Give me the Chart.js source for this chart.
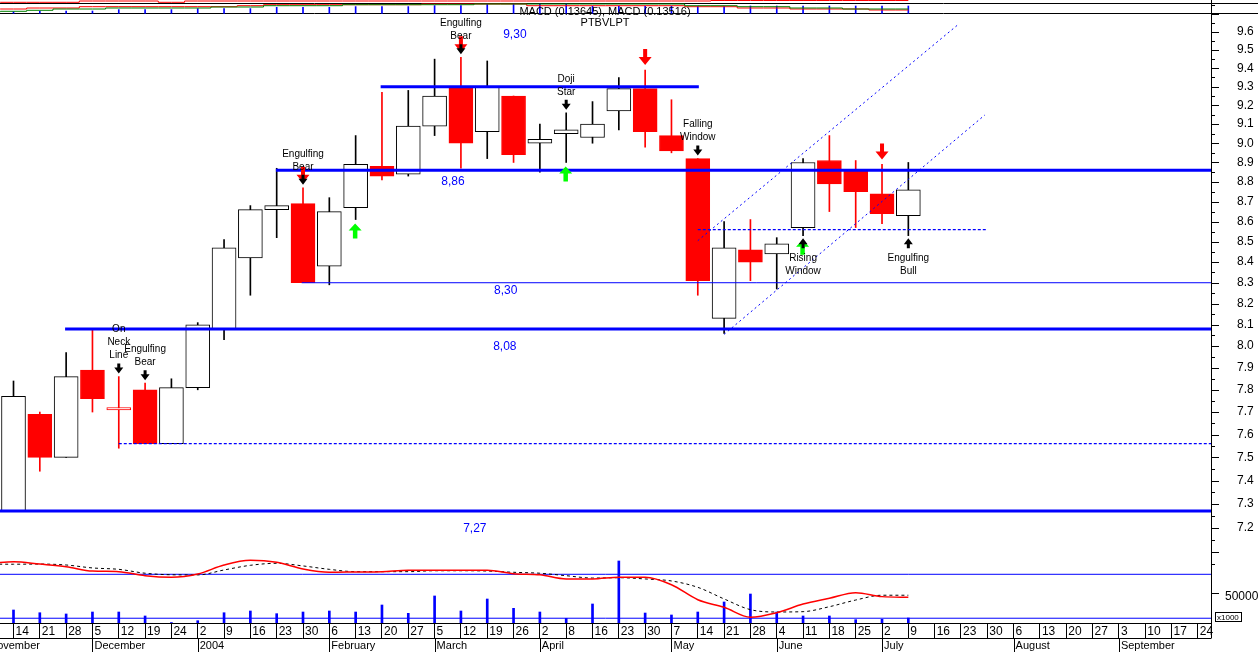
<!DOCTYPE html>
<html>
<head>
<meta charset="utf-8">
<title>PTBVLPT</title>
<script src="https://cdn.jsdelivr.net/npm/chart.js@4.4.1/dist/chart.umd.min.js"></script>
<style>
  html, body { margin: 0; padding: 0; background: #fff; }
  #wrap { width: 1258px; height: 652px; position: relative; }
</style>
</head>
<body>
<div id="wrap"><canvas id="chart"></canvas></div>
<script>
// weekly bars, week 0 = 14 Nov 2003
const dayLabels = [14,21,28,5,12,19,24,2,9,16,23,30,6,13,20,27,5,12,19,26,2,8,16,23,30,7,14,21,28,4,11,18,25,2,9,16,23,30,6,13,20,27,3,10,17,24];
const monthNames = ['November','December','2004','February','March','April','May','June','July','August','September'];
const monthStartWeek = [-1,3,7,12,16,20,25,29,33,38,42];
const priceLabels = [7.2,7.3,7.4,7.5,7.6,7.7,7.8,7.9,8.0,8.1,8.2,8.3,8.4,8.5,8.6,8.7,8.8,8.9,9.0,9.1,9.2,9.3,9.4,9.5,9.6];

// candles, weeks 0..34
const openP  = [7.27,7.69,7.50,7.89,7.71,7.80,7.56,7.81,8.08,8.42,8.66,8.69,8.38,8.67,8.88,8.84,9.09,9.30,9.06,9.25,9.00,9.05,9.03,9.17,9.29,9.04,8.92,8.13,8.46,8.44,8.57,8.91,8.86,8.74,8.63];
const highP  = [7.84,7.70,7.97,8.08,7.86,7.83,7.85,8.11,8.51,8.68,8.87,8.77,8.72,9.04,9.27,9.28,9.45,9.46,9.44,9.25,9.10,9.16,9.22,9.35,9.39,9.23,8.92,8.60,8.61,8.52,8.92,9.04,8.91,8.89,8.90];
const lowP   = [7.27,7.44,7.50,7.70,7.54,7.56,7.56,7.80,8.03,8.24,8.52,8.30,8.29,8.61,8.81,8.83,9.04,8.87,8.92,8.90,8.85,8.90,9.00,9.07,8.98,8.95,8.24,8.06,8.31,8.27,8.53,8.65,8.57,8.59,8.53];
const closeP = [7.77,7.50,7.86,7.76,7.72,7.56,7.81,8.10,8.47,8.66,8.68,8.30,8.65,8.89,8.83,9.09,9.25,9.00,9.30,8.94,9.02,9.07,9.10,9.29,9.06,8.96,8.31,8.47,8.40,8.49,8.90,8.79,8.75,8.64,8.76];
const volume = [21900,17300,15200,18500,18500,11800,800,3900,17300,20200,15700,18500,20200,18500,30300,16300,45500,20200,40400,24700,18500,7900,32000,104400,16800,13500,18500,35400,48800,18500,11800,11800,5600,6200,8400];

// indicator series, weeks -1..34
const macdLine   = [0.1568,0.1581,0.1566,0.1549,0.1521,0.1517,0.1491,0.1481,0.1502,0.1560,0.1590,0.1577,0.1534,0.1513,0.1515,0.1517,0.1526,0.1526,0.1526,0.1526,0.1504,0.1497,0.1470,0.1470,0.1481,0.1481,0.1433,0.1336,0.1287,0.1223,0.1252,0.1308,0.1345,0.1381,0.1356,0.1352];
const signalLine = [0.1566,0.1565,0.1566,0.1560,0.1541,0.1532,0.1507,0.1497,0.1496,0.1528,0.1558,0.1571,0.1554,0.1532,0.1517,0.1517,0.1517,0.1523,0.1523,0.1521,0.1513,0.1507,0.1491,0.1476,0.1478,0.1470,0.1457,0.1416,0.1341,0.1272,0.1257,0.1259,0.1291,0.1334,0.1365,0.1365];
const stripRedA  = [11,11,11,11,12.3,12.3,12.3,11,12.3,12.3,12.3,12.3,12.3,12.3,12.3,12.3,12.3,12.3,12.3,12.3,12.3,12.3,12.3,12.3,12.3,12.3,12.3,12.3,12.8,12.8,12.8,12.8,12.8,12.8,12.8,12.8];
const stripRedB  = [4.3,4.3,5.3,5.3,6.6,6.6,6.6,6.6,6.6,6.6,7.6,8.6,8.6,8.6,8.6,8.6,8.6,9.3,9.3,9.3,9.3,7.6,7.6,7.6,7.6,7.6,7.6,6.6,6.6,5.3,5.3,4.3,4.3,4.3,3.3,3.3];
const stripGreen = [1.6,2,3,4.3,4.3,5.3,5.3,5.3,5.3,6.3,6.3,7.6,7.6,7.6,8.6,8.6,8.6,8.6,8.6,9.3,9.3,9.3,9.3,9.3,9.3,9.3,9.3,7.6,7.6,6.6,6.6,5.3,5.3,4.3,4.3,4.3];
const stripTicks = [1.7,2.3,2.3,2.3,3.7,3.7,3.7,4.7,4.7,4.7,6,6,6,6.7,6.7,6.7,7.7,7.7,9.3,9.3,9.3,9.3,7.3,7.3,7.3,7.3,7.3,7.3,7.3,7.3,7.3,7.3,7.3,7.3,7.3];

// support / resistance levels
const levelValues = [9.30, 8.86, 8.30, 8.08, 7.27, 7.56, 8.56];
const levelFrom   = [13.95, 9.97, 10.95, 1.96, -0.6, 4.0, 26.0];
const levelTo     = [26.04, 45.6, 45.6, 45.6, 45.6, 45.6, 37.0];
const levelText   = ['9,30', '8,86', '8,30', '8,08', '7,27', '', ''];
const levelTextWeek  = [19.05, 16.7, 18.7, 18.67, 17.53];
const levelTextPrice = [9.583, 8.800, 8.260, 7.996, 7.194];

// trend channel
const channelUpper = [[26.0, 8.505], [35.92, 9.645]];
const channelLower = [[27.0, 8.055], [36.91, 9.149]];

// candlestick patterns
const patternWeeks = [4, 5, 11, 17, 21, 26, 30, 34];
const patternNames = ['On Neck Line', 'Engulfing Bear', 'Engulfing Bear', 'Engulfing Bear', 'Doji Star', 'Falling Window', 'Rising Window', 'Engulfing Bull'];
const patternSide  = ['top', 'top', 'top', 'top', 'top', 'top', 'bottom', 'bottom'];
const redArrowWeeks = [11, 17, 24, 33];
const greenArrowWeeks = [13, 21, 30];

const BLUE = '#0000ff', RED = '#ff0000';
const FONT = "'Liberation Sans', Arial, sans-serif";
Chart.defaults.font.family = FONT;

const kind = closeP.map((c, i) => c < openP[i] ? 'down' : (i > 0 && c < closeP[i - 1] ? 'hollow' : 'up'));
const bodyFill = kind.map(k => k === 'down' ? RED : '#ffffff');
const bodyLine = kind.map(k => k === 'up' ? '#000000' : RED);

const levelSets = levelValues.map((v, i) => ({
  type: 'line',
  yAxisID: 'y',
  data: [{x: levelFrom[i], y: v}, {x: levelTo[i], y: v}],
  borderColor: BLUE,
  borderWidth: i === 2 ? 1 : (i >= 5 ? 1.3 : 3),
  borderDash: i >= 5 ? [3, 2] : [],
  pointRadius: 0,
  order: 1
}));
const channelSets = [channelUpper, channelLower].map(c => ({
  type: 'line',
  yAxisID: 'y',
  data: c.map(p => ({x: p[0], y: p[1]})),
  borderColor: BLUE,
  borderWidth: 1,
  borderDash: [2, 3],
  pointRadius: 0,
  order: 1
}));

const ind = (arr) => arr.map((v, i) => ({x: i - 1, y: v}));

function arrow(ctx, x, tip, dir, sw, sh, hw, hh, color) {
  const base = tip - dir * hh, end = base - dir * sh;
  ctx.fillStyle = color;
  ctx.beginPath();
  ctx.moveTo(x, tip);
  ctx.lineTo(x + hw / 2, base);
  ctx.lineTo(x + sw / 2, base);
  ctx.lineTo(x + sw / 2, end);
  ctx.lineTo(x - sw / 2, end);
  ctx.lineTo(x - sw / 2, base);
  ctx.lineTo(x - hw / 2, base);
  ctx.closePath();
  ctx.fill();
}

const decor = {
  id: 'decor',
  beforeDatasetsDraw(chart) {
    const ctx = chart.ctx;
    ctx.save();
    ctx.strokeStyle = '#000';
    ctx.lineWidth = 1;
    ctx.beginPath();
    ctx.moveTo(0, 3.5); ctx.lineTo(1258, 3.5);
    ctx.moveTo(0, 13.5); ctx.lineTo(1258, 13.5);
    ctx.stroke();
    ctx.restore();
  },
  afterDatasetsDraw(chart) {
    const ctx = chart.ctx, xs = chart.scales.x, ys = chart.scales.y;
    ctx.save();
    redArrowWeeks.forEach(w => {
      arrow(ctx, xs.getPixelForValue(w), ys.getPixelForValue(highP[w]) - 5, 1, 4, 8, 13, 8, RED);
    });
    greenArrowWeeks.forEach(w => {
      arrow(ctx, xs.getPixelForValue(w) - 0.5, ys.getPixelForValue(lowP[w]) + 4, -1, 4.5, 8, 13, 7, '#00ff00');
    });
    ctx.font = '10px ' + FONT;
    ctx.textAlign = 'center';
    ctx.textBaseline = 'middle';
    patternWeeks.forEach((w, i) => {
      const px = xs.getPixelForValue(w);
      const lines = patternNames[i] === 'On Neck Line' ? ['On', 'Neck', 'Line'] : patternNames[i].split(' ');
      if (patternSide[i] === 'top') {
        const tip = ys.getPixelForValue(highP[w]) - 3;
        arrow(ctx, px, tip, 1, 3, 4, 9, 6, '#000');
        ctx.fillStyle = '#000';
        lines.forEach((t, k) => ctx.fillText(t, px, tip - 18 - (lines.length - 1 - k) * 13));
      } else {
        const tip = ys.getPixelForValue(lowP[w]) + 2.5;
        arrow(ctx, px, tip, -1, 3, 4, 9, 6, '#000');
        ctx.fillStyle = '#000';
        lines.forEach((t, k) => ctx.fillText(t, px, tip + 20 + k * 13));
      }
    });
    ctx.font = '12px ' + FONT;
    ctx.fillStyle = BLUE;
    levelTextWeek.forEach((w, i) => {
      ctx.fillText(levelText[i], xs.getPixelForValue(w), ys.getPixelForValue(levelTextPrice[i]));
    });
    ctx.restore();
  },
  afterDraw(chart) {
    const ctx = chart.ctx, xs = chart.scales.x, ys = chart.scales.y, vs = chart.scales.vol;
    const area = chart.chartArea;
    ctx.save();
    ctx.strokeStyle = '#000';
    ctx.lineWidth = 1;
    ctx.beginPath();
    // price axis tick marks, long on the labelled values
    for (let k = 141; k <= 195; k++) {
      const v = k * 0.05;
      const py = Math.round(ys.getPixelForValue(v)) + 0.5;
      const len = k % 2 === 0 ? 8 : 4;
      ctx.moveTo(area.right, py); ctx.lineTo(area.right + len, py);
    }
    const vy = Math.round(vs.getPixelForValue(50000)) + 0.5;
    ctx.moveTo(area.right, vy); ctx.lineTo(area.right + 8, vy);
    // month row
    const rowY = xs.top + 15.5;
    ctx.moveTo(0, rowY); ctx.lineTo(area.right, rowY);
    monthStartWeek.forEach(w => {
      const px = Math.round(xs.getPixelForValue(w)) + 0.5;
      ctx.moveTo(px, rowY); ctx.lineTo(px, 652);
    });
    ctx.moveTo(area.right + 0.5, xs.top); ctx.lineTo(area.right + 0.5, rowY);
    ctx.stroke();
    ctx.strokeRect(1215.5, 612.5, 26, 9);

    ctx.fillStyle = '#000';
    ctx.textBaseline = 'middle';
    ctx.textAlign = 'left';
    ctx.font = '12px ' + FONT;
    ctx.fillText('50000', 1225, vy + 3);
    ctx.font = '11px ' + FONT;
    monthNames.forEach((m, i) => ctx.fillText(m, xs.getPixelForValue(monthStartWeek[i]) + 2, 646));
    ctx.font = '8px ' + FONT;
    ctx.fillText('x1000', 1217, 617.5);

    ctx.textAlign = 'center';
    ctx.font = '11px ' + FONT;
    ctx.fillText('MACD (0.13645), MACD (0.13516)', 605, 12);
    ctx.fillText('PTBVLPT', 605, 23);
    ctx.restore();
  }
};

new Chart(document.getElementById('chart'), {
  type: 'line',
  data: {
    datasets: [
      {
        type: 'bar', label: 'wick', yAxisID: 'y', grouped: false, order: 10,
        data: lowP.map((l, i) => ({x: i, y: [l, highP[i]]})),
        backgroundColor: kind.map(k => k === 'up' ? '#000000' : RED),
        barThickness: 1, borderWidth: 0
      },
      {
        type: 'bar', label: 'body', yAxisID: 'y', grouped: false, order: 9,
        data: openP.map((o, i) => ({x: i, y: [o, closeP[i]]})),
        backgroundColor: bodyFill, borderColor: bodyLine,
        borderWidth: 1, borderSkipped: false, barThickness: 24
      },
      {
        type: 'bar', label: 'volume', yAxisID: 'vol', grouped: false, order: 8,
        data: volume.map((v, i) => ({x: i, y: v})),
        backgroundColor: BLUE, barThickness: 2
      },
      {
        type: 'line', label: 'volume ref', yAxisID: 'vol', order: 7,
        data: [{x: -0.6, y: 8000}, {x: 45.6, y: 8000}],
        borderColor: BLUE, borderWidth: 1, pointRadius: 0
      },
      {
        type: 'line', label: 'macd ref', yAxisID: 'macd', order: 7,
        data: [{x: -0.6, y: 0.15}, {x: 45.6, y: 0.15}],
        borderColor: BLUE, borderWidth: 1, pointRadius: 0
      },
      {
        type: 'line', label: 'signal', yAxisID: 'macd', order: 6,
        data: ind(signalLine), borderColor: '#000', borderWidth: 1, borderDash: [3, 3],
        pointRadius: 0, cubicInterpolationMode: 'monotone'
      },
      {
        type: 'line', label: 'macd', yAxisID: 'macd', order: 5,
        data: ind(macdLine), borderColor: RED, borderWidth: 1.5,
        pointRadius: 0, cubicInterpolationMode: 'monotone'
      },
      {
        type: 'bar', label: 'strip ticks', yAxisID: 'strip', grouped: false, order: 7,
        data: stripTicks.map((v, i) => ({x: i, y: v})),
        backgroundColor: BLUE, barThickness: 1
      },
      {
        type: 'line', label: 'strip green', yAxisID: 'strip', order: 6,
        data: ind(stripGreen), borderColor: '#008000', borderWidth: 1, pointRadius: 0, stepped: 'middle'
      },
      {
        type: 'line', label: 'strip red b', yAxisID: 'strip', order: 6,
        data: ind(stripRedB), borderColor: RED, borderWidth: 1, pointRadius: 0, stepped: 'middle'
      },
      {
        type: 'line', label: 'strip red a', yAxisID: 'strip', order: 6,
        data: ind(stripRedA), borderColor: RED, borderWidth: 1, pointRadius: 0, stepped: 'middle'
      },
      ...levelSets,
      ...channelSets
    ]
  },
  options: {
    responsive: true,
    maintainAspectRatio: false,
    animation: false,
    devicePixelRatio: 1,
    events: [],
    layout: { padding: 0 },
    plugins: { legend: { display: false }, tooltip: { enabled: false } },
    scales: {
      x: {
        type: 'linear', position: 'bottom', min: -0.513, max: 45.5, offset: false,
        afterBuildTicks: s => { s.ticks = dayLabels.map((d, i) => ({value: i})); },
        afterFit: s => { s.height = 29; s.paddingLeft = 0; s.paddingRight = 0; },
        ticks: {
          callback: (v, i) => dayLabels[i],
          autoSkip: false, maxRotation: 0, minRotation: 0, align: 'start',
          labelOffset: 2, padding: -14, color: '#000', font: { size: 12 }
        },
        grid: { drawOnChartArea: false, tickLength: 15, color: '#000', offset: false },
        border: { color: '#000' }
      },
      y: {
        type: 'logarithmic', position: 'right', min: 6.81272, max: 9.77996, bounds: 'data',
        afterBuildTicks: s => { s.ticks = priceLabels.map(v => ({value: v})); },
        afterFit: s => { s.width = 47; s.paddingTop = 0; s.paddingBottom = 0; },
        ticks: {
          callback: v => v.toFixed(1), autoSkip: false, padding: 26,
          color: '#000', font: { size: 12 }
        },
        grid: { display: false, drawTicks: false },
        border: { color: '#000' }
      },
      vol: { type: 'linear', display: false, min: 0, max: 1048822, beginAtZero: false },
      macd: { type: 'linear', display: false, min: 0.118589, max: 0.520424, beginAtZero: false },
      strip: { type: 'linear', display: false, min: -609.7, max: 13.3, beginAtZero: false }
    }
  },
  plugins: [decor]
});
</script>
</body>
</html>
